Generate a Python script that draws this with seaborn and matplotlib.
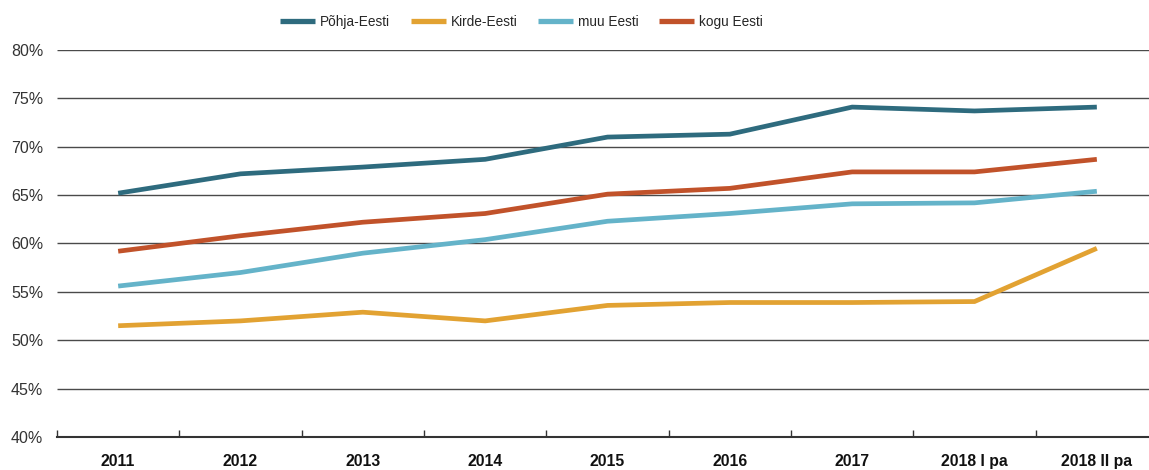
import matplotlib
matplotlib.use("Agg")
import matplotlib.pyplot as plt
import seaborn as sns
import pandas as pd
import numpy as np
from matplotlib.ticker import FuncFormatter
from matplotlib.lines import Line2D

periods = ["2011", "2012", "2013", "2014", "2015", "2016", "2017", "2018 I pa", "2018 II pa"]
pohja = [65.2, 67.2, 67.9, 68.7, 71.0, 71.3, 74.1, 73.7, 74.1]
kirde = [51.5, 52.0, 52.9, 52.0, 53.6, 53.9, 53.9, 54.0, 59.5]
muu = [55.6, 57.0, 59.0, 60.4, 62.3, 63.1, 64.1, 64.2, 65.4]
kogu = [59.2, 60.8, 62.2, 63.1, 65.1, 65.7, 67.4, 67.4, 68.7]
series_names = ["Põhja-Eesti", "Kirde-Eesti", "muu Eesti", "kogu Eesti"]
colors = ["#2e6b7e", "#e2a232", "#64b3c9", "#c1522a"]

sns.set_style("white")
plt.rcParams["font.family"] = ["Liberation Sans", "DejaVu Sans"]

rows = []
for name, vals in zip(series_names, [pohja, kirde, muu, kogu]):
    for i, (p, v) in enumerate(zip(periods, vals)):
        rows.append({"idx": i, "period": p, "value": v, "series": name})
df = pd.DataFrame(rows)

W, H = 1149, 470
fig = plt.figure(figsize=(W / 100, H / 100), dpi=100)
left, right, top, bottom = 57, 1158, 50, 437
ax = fig.add_axes([left / W, 1 - bottom / H, (right - left) / W, (bottom - top) / H])

for y in range(45, 81, 5):
    ax.axhline(y, color="#4a4a4a", lw=1.0, zorder=0)

sns.lineplot(data=df, x="idx", y="value", hue="series", palette=colors,
             hue_order=series_names, linewidth=3.4, ax=ax, legend=False, zorder=3)
for ln in ax.lines:
    ln.set_solid_capstyle("butt")
    ln.set_solid_joinstyle("miter")

ax.set_xlim(-0.5, 8.5)
ax.set_ylim(40, 80)
ax.set_yticks(range(40, 81, 5))
ax.yaxis.set_major_formatter(FuncFormatter(lambda v, p: f"{int(v)}%"))
ax.set_xticks(np.arange(len(periods)))
ax.set_xticklabels(periods, fontweight="bold", fontsize=11.3, color="#111111")
ax.set_xticks(np.arange(-0.5, 8.6, 1.0), minor=True)
ax.tick_params(axis="x", which="both", bottom=True)
ax.tick_params(axis="x", which="major", length=0, pad=12)
ax.tick_params(axis="x", which="minor", length=5, width=1, direction="in", color="#333333")
ax.tick_params(axis="y", length=0, pad=10, labelsize=11.5, labelcolor="#333333")
ax.set_xlabel("")
ax.set_ylabel("")
for s in ["top", "right", "left"]:
    ax.spines[s].set_visible(False)
ax.spines["bottom"].set_color("#333333")
ax.spines["bottom"].set_linewidth(1.5)

handles = [Line2D([0], [0], color=c, lw=3.8, solid_capstyle="butt") for c in colors]
fig.legend(handles, series_names, loc="center left", bbox_to_anchor=(280 / W, 1 - 22 / H),
           ncol=4, frameon=False, handlelength=2.6, handletextpad=0.35, columnspacing=1.5,
           borderpad=0, borderaxespad=0,
           prop={"size": 9.8})

fig.savefig("out.png", dpi=100)
